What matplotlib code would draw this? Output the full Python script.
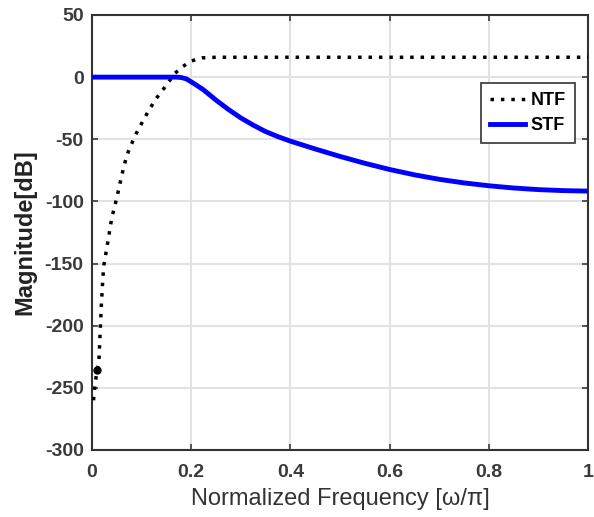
import matplotlib
matplotlib.use("Agg")
import matplotlib.pyplot as plt
from matplotlib.font_manager import FontProperties

plt.rcParams["axes.unicode_minus"] = False

# NTF magnitude (dB)
ntf_x = [0.003, 0.006, 0.010, 0.014, 0.016, 0.019, 0.022, 0.024, 0.030, 0.040,
         0.050, 0.060, 0.070, 0.087, 0.107, 0.127, 0.147, 0.167, 0.181, 0.200,
         0.222, 0.250, 0.300, 0.400, 0.500, 0.600, 0.700, 0.800, 0.900, 1.000]
ntf_db = [-260, -248, -236, -228, -209, -182, -161, -151, -137, -113,
          -97, -79, -63, -47, -32, -18.5, -8, 3, 8, 13,
          15.5, 16, 16, 16, 16, 16, 16, 16, 16, 16]

# notch marker on the NTF
notch_x = [0.010]
notch_db = [-236]

# STF magnitude (dB)
stf_x = [0.0, 0.10, 0.170, 0.180, 0.190, 0.200, 0.210, 0.225, 0.250, 0.275,
         0.300, 0.325, 0.350, 0.375, 0.400, 0.450, 0.500, 0.550, 0.600, 0.650,
         0.700, 0.750, 0.800, 0.850, 0.900, 0.950, 1.000]
stf_db = [0, 0, 0, -0.3, -1.4, -3.8, -6.3, -10.3, -18.5, -26,
          -32.8, -38.6, -43.8, -47.9, -51.5, -57.8, -63.8, -69.3, -74.3, -78.6,
          -82.2, -85.1, -87.4, -89.2, -90.5, -91.3, -91.7]

x_ticks = [0, 0.2, 0.4, 0.6, 0.8, 1]
x_tick_labels = ["0", "0.2", "0.4", "0.6", "0.8", "1"]
y_ticks = [-300, -250, -200, -150, -100, -50, 0, 50]

fig = plt.figure(figsize=(5.94, 5.17), dpi=100)
ax = fig.add_axes([0.1549, 0.1296, 0.835, 0.8414])

ax.plot(ntf_x, ntf_db, color="black", linewidth=2.5, linestyle=(0, (1, 2)),
        dash_capstyle="butt", label="NTF", zorder=3)
ax.plot(notch_x, notch_db, "o", color="black", markersize=5, zorder=3)
ax.plot(stf_x, stf_db, color="#0000ff", linewidth=3.5, label="STF", zorder=4,
        solid_joinstyle="round")

ax.set_xlim(0, 1)
ax.set_ylim(-300, 50)
ax.set_xticks(x_ticks)
ax.set_xticklabels(x_tick_labels)
ax.set_yticks(y_ticks)

ax.grid(True, color="#e2e2e2", linewidth=1.5)
ax.set_axisbelow(True)
ax.tick_params(direction="in", top=True, right=True, length=4, width=1.2,
               colors="#3a3a3a", labelsize=14)
ax.tick_params(axis="x", pad=10)
ax.tick_params(axis="y", pad=6)
for lbl in ax.get_xticklabels() + ax.get_yticklabels():
    lbl.set_fontweight("bold")
    lbl.set_fontfamily("Liberation Sans")
    lbl.set_color("#3a3a3a")
for sp in ax.spines.values():
    sp.set_color("#333333")
    sp.set_linewidth(1.5)

ax.set_xlabel("Normalized Frequency [ω/π]", fontsize=17, family="Liberation Sans",
              color="#333333", labelpad=5)
ax.set_ylabel("Magnitude[dB]", fontsize=17, family="Liberation Sans",
              fontweight="bold", color="#222222", labelpad=6)

leg = ax.legend(loc="upper right", bbox_to_anchor=(0.974, 0.844),
                prop=FontProperties(family="Liberation Sans", weight="bold", size=13),
                fancybox=False, edgecolor="#333333", framealpha=1,
                handlelength=1.9, handletextpad=0.35, borderpad=0.5,
                labelspacing=0.45, borderaxespad=0)
leg.get_frame().set_linewidth(1.2)

fig.savefig("out.png", dpi=100)
